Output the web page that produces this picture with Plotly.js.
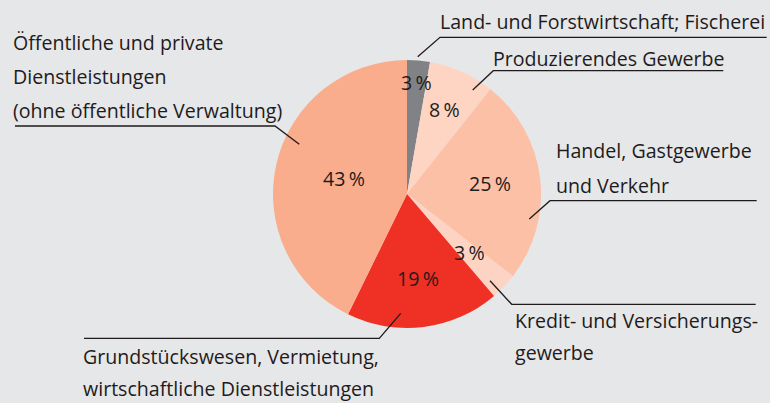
<!DOCTYPE html>
<html><head><meta charset="utf-8">
<script src="https://cdn.plot.ly/plotly-3.0.1.min.js"></script>
<style>html,body{margin:0;padding:0;background:#e6e7e8}</style>
</head><body><div id="chart" style="width:770px;height:403px"></div>
<script>
// ---- data ----
const sectors = ['Land- und Forstwirtschaft; Fischerei', 'Produzierendes Gewerbe', 'Handel, Gastgewerbe und Verkehr', 'Kredit- und Versicherungsgewerbe', 'Grundstückswesen, Vermietung, wirtschaftliche Dienstleistungen', 'Öffentliche und private Dienstleistungen (ohne öffentliche Verwaltung)'];
const shares = [2.75, 7.95, 24.8, 3.25, 18.5, 42.75];
const shareLabels = ['3\u2009%', '8\u2009%', '25\u2009%', '3\u2009%', '19\u2009%', '43\u2009%'];
const labelLines = [
  ['Land- und Forstwirtschaft; Fischerei'],
  ['Produzierendes Gewerbe'],
  ['Handel, Gastgewerbe', 'und Verkehr'],
  ['Kredit- und Versicherungs-', 'gewerbe'],
  ['Grundstückswesen, Vermietung,', 'wirtschaftliche Dienstleistungen'],
  ['Öffentliche und private', 'Dienstleistungen', '(ohne öffentliche Verwaltung)']
];

// ---- style / layout ----
const colors = ['#808285', '#fdd5c2', '#fcc0a6', '#fdd4c3', '#ef3024', '#f9ad8d'];
const W = 770, H = 403;
const cx = 407, cy = 194, R = 134.5;
const pctRadius = [0.83, 0.68, 0.62, 0.64, 0.64, 0.48];
const FONT = 'Open Sans, Noto Sans, sans-serif';
const FS = 19.6;
const TXT = '#1f1b1c';
const callouts = [
  {x: 440, y: 22.5, dy: 0, lead: [[417.7, 56.7], [440, 37.3], [766.7, 37.3]]},
  {x: 493, y: 59, dy: 0, lead: [[472.7, 90], [493.3, 70.7], [723.3, 70.7]]},
  {x: 556, y: 151, dy: 35, lead: [[529.3, 219], [550, 200.7], [756.7, 200.7]]},
  {x: 515, y: 321, dy: 32.5, lead: [[490, 280.7], [511.7, 304.3], [755.7, 304.3]]},
  {x: 83.3, y: 357, dy: 32, lead: [[400.7, 313.3], [379.3, 338.3], [84, 338.3]]},
  {x: 12.7, y: 43.3, dy: 33.7, lead: [[299.3, 144.3], [275, 126], [15, 126]]}
];
const px = x => x / W, py = y => 1 - y / H;

const annotations = [];
const shapes = [];
const total = shares.reduce((a, b) => a + b, 0);
let cum = 0;
shares.forEach((v, i) => {
  const mid = (cum + v / 2) / total * 2 * Math.PI;
  cum += v;
  const r = R * pctRadius[i];
  annotations.push({
    x: px(cx + r * Math.sin(mid)), y: py(cy - r * Math.cos(mid)) + 0.6 / H,
    xref: 'paper', yref: 'paper', xanchor: 'center', yanchor: 'middle',
    text: shareLabels[i], showarrow: false, borderpad: 0, borderwidth: 0,
    font: {family: FONT, size: FS, color: TXT}
  });
});
callouts.forEach((c, i) => {
  labelLines[i].forEach((t, k) => {
    annotations.push({
      x: px(c.x), y: py(c.y + k * c.dy) + 0.6 / H,
      xref: 'paper', yref: 'paper', xanchor: 'left', yanchor: 'middle',
      text: t, showarrow: false, borderpad: 0, borderwidth: 0,
      font: {family: FONT, size: FS, color: TXT}
    });
  });
  const path = c.lead.map((p, k) => (k ? 'L' : 'M') + px(p[0]) + ',' + py(p[1])).join(' ');
  shapes.push({type: 'path', xref: 'paper', yref: 'paper', path: path, line: {color: TXT, width: 1.3}});
});

const data = [{
  type: 'pie', labels: sectors, values: shares, sort: false, direction: 'clockwise', rotation: 0,
  marker: {colors: colors, line: {width: 0}}, textinfo: 'none', hoverinfo: 'skip',
  domain: {x: [272.5 / W, 541.5 / W], y: [75 / H, 343 / H]}, showlegend: false
}];
const layout = {
  width: W, height: H, margin: {l: 0, r: 0, t: 0, b: 0},
  paper_bgcolor: '#e6e7e8', plot_bgcolor: '#e6e7e8',
  annotations: annotations, shapes: shapes, showlegend: false
};
Plotly.newPlot('chart', data, layout, {displayModeBar: false, staticPlot: true});
</script></body></html>
